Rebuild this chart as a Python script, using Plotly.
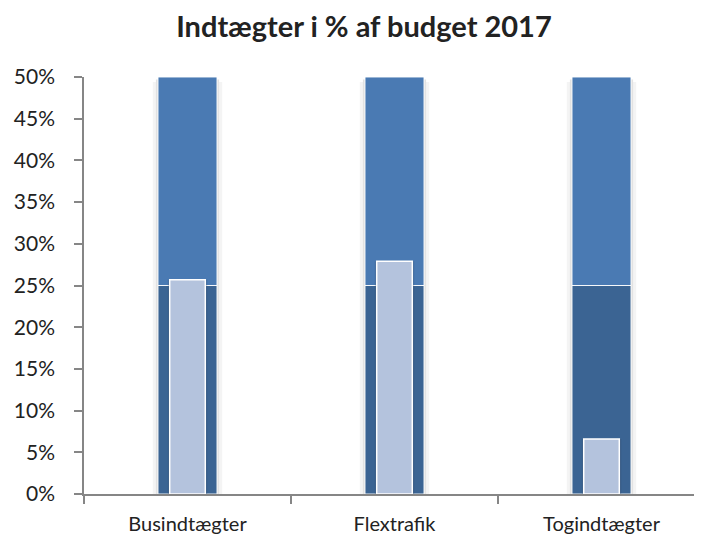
import plotly.graph_objects as go

categories = ["Busindtægter", "Flextrafik", "Togindtægter"]
actual_pct = [25.7, 27.9, 6.6]
band_low = [25, 25, 25]
band_high = [25, 25, 25]
title_text = "Indtægter i % af budget 2017"

x = list(range(len(categories)))

# page body has an 8px margin; figure sized to fill the rest of the 702x543 window
W, H = 694, 535

fig = go.Figure()
# soft shadows
fig.add_trace(go.Bar(x=x, y=[50]*3, base=[-0.6]*3, width=0.335, marker=dict(color="#f4f4f4", line=dict(width=0)), hoverinfo="skip"))
fig.add_trace(go.Bar(x=x, y=[50]*3, base=[-0.3]*3, width=0.305, marker=dict(color="#e2e2e2", line=dict(width=0)), hoverinfo="skip"))
# background bands
fig.add_trace(go.Bar(x=x, y=band_low, base=[0]*3, width=0.285,
                     marker=dict(color="#3b6493", line=dict(color="rgba(255,255,255,0.9)", width=1))))
fig.add_trace(go.Bar(x=x, y=band_high, base=band_low, width=0.285,
                     marker=dict(color="#4a7ab3", line=dict(color="rgba(255,255,255,0.9)", width=1))))
# shadow for actual bars
fig.add_trace(go.Bar(x=x, y=actual_pct, width=0.19, marker=dict(color="rgba(40,60,90,0.25)", line=dict(width=0)), hoverinfo="skip"))
# actual values
fig.add_trace(go.Bar(x=x, y=actual_pct, width=0.172,
                     marker=dict(color="#b4c3dd", line=dict(color="white", width=1.5))))

fig.update_layout(
    barmode="overlay",
    showlegend=False,
    width=W, height=H,
    paper_bgcolor="white", plot_bgcolor="white",
    margin=dict(l=76, r=0, t=69, b=49, autoexpand=False),
    font=dict(family="Lato, Carlito, sans-serif", color="#222222", size=20),
    title=dict(text="<b>" + title_text + "</b>", x=356/W, xanchor="center", y=1 - 19/H, yanchor="middle",
               font=dict(size=29, color="#222222")),
)
fig.update_xaxes(
    tickmode="array", tickvals=x, ticktext=categories,
    range=[-0.5, -0.5 + 618/207],
    showline=True, linecolor="#868686", linewidth=2,
    ticks="", showgrid=False, zeroline=False,
    tickfont=dict(size=20), ticklabelstandoff=11,
)
fig.update_xaxes(minor=dict(tickmode="array", tickvals=[-0.5, 0.5, 1.5, 2.5], ticks="outside", ticklen=8, tickcolor="#868686", tickwidth=1.5))
fig.update_yaxes(
    range=[0, 50], tickmode="array", tickvals=list(range(0, 55, 5)),
    ticktext=[f"{v}%" for v in range(0, 55, 5)],
    showline=True, linecolor="#868686", linewidth=1.5,
    ticks="outside", ticklen=8, tickcolor="#868686", tickwidth=1.5,
    showgrid=False, zeroline=False, ticklabelstandoff=15,
    tickfont=dict(size=21),
)

fig.write_html("out.html")
